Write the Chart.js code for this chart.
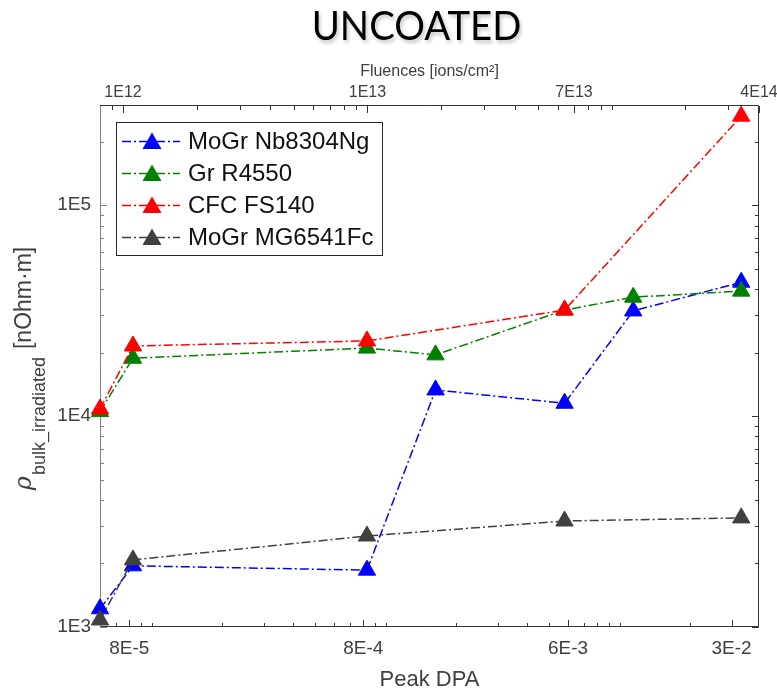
<!DOCTYPE html>
<html>
<head>
<meta charset="utf-8">
<script src="https://cdn.jsdelivr.net/npm/chart.js@4.4.1/dist/chart.umd.min.js"></script>
<style>
  body { margin: 0; background: #fff; }
  #wrap { position: relative; width: 777px; height: 692px; }
  #title {
    position: absolute; left: 0; top: 0; width: 833px;
    text-align: center; font: 41px Lato, "Open Sans", sans-serif; line-height: 50px;
    color: #000; text-shadow: 2px 3px 4px rgba(0, 0, 0, 0.22);
    transform: scaleX(0.935); transform-origin: 416.5px 0;
  }
  canvas { position: absolute; left: 0; top: 0; }
</style>
</head>
<body>
<div id="wrap">
  <canvas id="chart" width="777" height="692"></canvas>
  <div id="title">UNCOATED</div>
</div>
<script>
// peak DPA of each irradiation step
const dpa = [6.0e-5, 8.3e-5, 8.3e-4, 1.63e-3, 5.8e-3, 1.14e-2, 3.3e-2];

// bulk resistivity after irradiation [nOhm·m], null = not measured
const mogrNb = [1220, 1950, 1860, 13300, 11500, 31500, 43100];
const grR4550 = [10500, 18800, 21000, 19500, 31800, 36600, 39100];
const cfcFs140 = [10800, 21500, 22700, null, 31800, null, 264000];
const mogrMg = [1080, 2080, 2700, null, 3180, null, 3290];

const seriesNames = ['MoGr Nb8304Ng', 'Gr R4550', 'CFC FS140', 'MoGr MG6541Fc'];
const seriesColors = ['#0000ff', '#008000', '#ff0000', '#404040'];

// axis ranges and labelled ticks
const dpaMin = 6.0e-5, dpaMax = 3.93e-2;
const dpaTicks = [8e-5, 8e-4, 6e-3, 3e-2];
const dpaTickLabels = ['8E-5', '8E-4', '6E-3', '3E-2'];

const fluenceMin = 8.05e11, fluenceMax = 4e14;
const fluenceTicks = [1e12, 1e13, 7e13, 4e14];
const fluenceTickLabels = ['1E12', '1E13', '7E13', '4E14'];

const rhoMin = 1000, rhoMax = 2.95e5;
const rhoTicks = [1e3, 1e4, 1e5];
const rhoTickLabels = ['1E3', '1E4', '1E5'];

Chart.defaults.font.family = '"Liberation Sans", Arial, sans-serif';

function majorIndex(v, majors) {
  return majors.findIndex(t => Math.abs(Math.log10(v / t)) < 1e-6);
}

// 1..9 x 10^n ticks inside the range, major ticks merged in
function logTicks(min, max, majors) {
  const out = [];
  for (let e = Math.floor(Math.log10(min)); e <= Math.ceil(Math.log10(max)); e++) {
    for (let m = 1; m <= 9; m++) {
      const v = m * Math.pow(10, e);
      if (v >= min * 0.9999 && v <= max * 1.0001 && majorIndex(v, majors) < 0) out.push(v);
    }
  }
  majors.forEach(v => { if (v >= min * 0.9999 && v <= max * 1.0001) out.push(v); });
  return out.sort((a, b) => a - b);
}

function points(values) {
  return dpa.map((x, i) => ({ x, y: values[i] })).filter(p => p.y != null);
}

function logAxis(min, max, majors, labels, fontSize, pad, extra) {
  return Object.assign({
    type: 'logarithmic',
    min, max,
    afterBuildTicks: s => { s.ticks = logTicks(min, max, majors).map(value => ({ value })); },
    ticks: {
      autoSkip: false, maxRotation: 0, color: '#404040',
      font: { size: fontSize }, padding: pad,
      callback: v => { const i = majorIndex(v, majors); return i >= 0 ? labels[i] : ''; }
    },
    grid: { display: false, drawTicks: false },
    border: { display: false }
  }, extra);
}

// inward tick marks and the axes box
const frame = {
  id: 'frame',
  beforeDatasetsDraw(chart) {
    const { ctx, chartArea: a, scales } = chart;
    const crisp = v => Math.round(v) + 0.5;
    ctx.save();
    ctx.lineWidth = 1;
    [[scales.x, a.bottom, -1, dpaTicks], [scales.x2, a.top, 1, fluenceTicks]].forEach(([s, edge, dir, majors]) => {
      ctx.strokeStyle = '#333';
      s.ticks.forEach(t => {
        const px = crisp(s.getPixelForValue(t.value));
        const len = majorIndex(t.value, majors) >= 0 ? 7 : 4;
        ctx.beginPath(); ctx.moveTo(px, edge); ctx.lineTo(px, edge + dir * len); ctx.stroke();
      });
    });
    [[a.left, 1, '#808080'], [a.right, -1, '#333']].forEach(([edge, dir, col]) => {
      ctx.strokeStyle = col;
      scales.y.ticks.forEach(t => {
        const py = crisp(scales.y.getPixelForValue(t.value));
        const len = majorIndex(t.value, rhoTicks) >= 0 ? 7 : 4;
        ctx.beginPath(); ctx.moveTo(edge, py); ctx.lineTo(edge + dir * len, py); ctx.stroke();
      });
    });
    ctx.strokeStyle = '#333';
    ctx.beginPath();
    ctx.moveTo(a.left, crisp(a.top) - 1); ctx.lineTo(crisp(a.right) - 1, crisp(a.top) - 1);
    ctx.lineTo(crisp(a.right) - 1, crisp(a.bottom) - 1); ctx.lineTo(a.left, crisp(a.bottom) - 1);
    ctx.stroke();
    ctx.strokeStyle = '#808080';
    ctx.beginPath(); ctx.moveTo(crisp(a.left), a.top); ctx.lineTo(crisp(a.left), a.bottom); ctx.stroke();
    ctx.restore();
  }
};

// legend box in the upper left corner of the plot
const boxLegend = {
  id: 'boxLegend',
  afterDatasetsDraw(chart) {
    const { ctx, chartArea: a } = chart;
    const x0 = a.left + 16, y0 = a.top + 16, w = 266, h = 133;
    ctx.save();
    ctx.fillStyle = '#fff';
    ctx.fillRect(x0, y0, w, h);
    ctx.strokeStyle = '#262626';
    ctx.lineWidth = 1;
    ctx.strokeRect(x0 + 0.5, y0 + 0.5, w, h);
    chart.data.datasets.forEach((ds, i) => {
      const y = y0 + 19.5 + i * 32;
      ctx.strokeStyle = ds.borderColor;
      ctx.lineWidth = ds.borderWidth;
      ctx.setLineDash(ds.borderDash);
      ctx.beginPath(); ctx.moveTo(x0 + 6, y); ctx.lineTo(x0 + 64, y); ctx.stroke();
      ctx.setLineDash([]);
      const r = 11, cx = x0 + 36, cy = y + 2;
      ctx.fillStyle = ds.pointBackgroundColor;
      ctx.beginPath();
      ctx.moveTo(cx, cy - r);
      ctx.lineTo(cx + 0.866 * r, cy + 0.5 * r);
      ctx.lineTo(cx - 0.866 * r, cy + 0.5 * r);
      ctx.closePath();
      ctx.fill();
      ctx.fillStyle = '#111';
      ctx.font = '24px "Liberation Sans", Arial, sans-serif';
      ctx.textBaseline = 'middle';
      ctx.fillText(ds.label, x0 + 72, y + 1);
    });
    ctx.restore();
  }
};

// rotated y title with a subscript
const yTitle = {
  id: 'yTitle',
  afterDraw(chart) {
    const { ctx, chartArea: a } = chart;
    const parts = [
      { text: 'ρ', font: 'italic 24px "DejaVu Serif", serif', shift: 0, gap: 1 },
      { text: 'bulk_irradiated', font: '18px "Liberation Sans", Arial, sans-serif', shift: 14, gap: 8 },
      { text: '[nOhm·m]', font: '23px "Liberation Sans", Arial, sans-serif', shift: 0, gap: 0 }
    ];
    ctx.save();
    ctx.fillStyle = '#404040';
    ctx.textBaseline = 'alphabetic';
    let total = 0;
    parts.forEach(p => { ctx.font = p.font; p.w = ctx.measureText(p.text).width; total += p.w + p.gap; });
    ctx.translate(31, (a.top + a.bottom) / 2 + 2);
    ctx.rotate(-Math.PI / 2);
    let x = -total / 2;
    parts.forEach(p => { ctx.font = p.font; ctx.fillText(p.text, x, p.shift); x += p.w + p.gap; });
    ctx.restore();
  }
};

const allSeries = [mogrNb, grR4550, cfcFs140, mogrMg];

new Chart(document.getElementById('chart'), {
  type: 'scatter',
  data: {
    datasets: allSeries.map((values, i) => ({
      label: seriesNames[i],
      data: points(values),
      showLine: true,
      borderColor: seriesColors[i],
      borderWidth: 1.5,
      borderDash: [9, 3, 2, 3],
      pointStyle: 'triangle',
      pointRadius: 10,
      pointBackgroundColor: seriesColors[i],
      pointBorderColor: seriesColors[i],
      pointBorderWidth: 1,
      order: allSeries.length - i,
      clip: false
    }))
  },
  options: {
    responsive: false,
    animation: false,
    layout: { padding: { left: 0, right: 18, top: 0, bottom: 0 } },
    plugins: { legend: { display: false }, tooltip: { enabled: false } },
    scales: {
      x: logAxis(dpaMin, dpaMax, dpaTicks, dpaTickLabels, 19, 10, {
        position: 'bottom',
        afterFit: s => { s.height = 65; s.paddingLeft = 0; s.paddingRight = 0; },
        title: { display: true, text: 'Peak DPA', color: '#404040', font: { size: 22, lineHeight: 1 }, padding: { top: 1, bottom: 1 } }
      }),
      x2: logAxis(fluenceMin, fluenceMax, fluenceTicks, fluenceTickLabels, 16, 4, {
        position: 'top',
        afterFit: s => { s.height = 106; s.paddingLeft = 0; s.paddingRight = 0; },
        title: { display: true, text: 'Fluences [ions/cm²]', color: '#404040', font: { size: 16, lineHeight: 1 }, padding: { top: 64, bottom: 0 } }
      }),
      y: logAxis(rhoMin, rhoMax, rhoTicks, rhoTickLabels, 19, 9, {
        position: 'left',
        afterFit: s => { s.width = 100; s.paddingTop = 0; s.paddingBottom = 0; }
      })
    }
  },
  plugins: [frame, boxLegend, yTitle]
});
</script>
</body>
</html>
